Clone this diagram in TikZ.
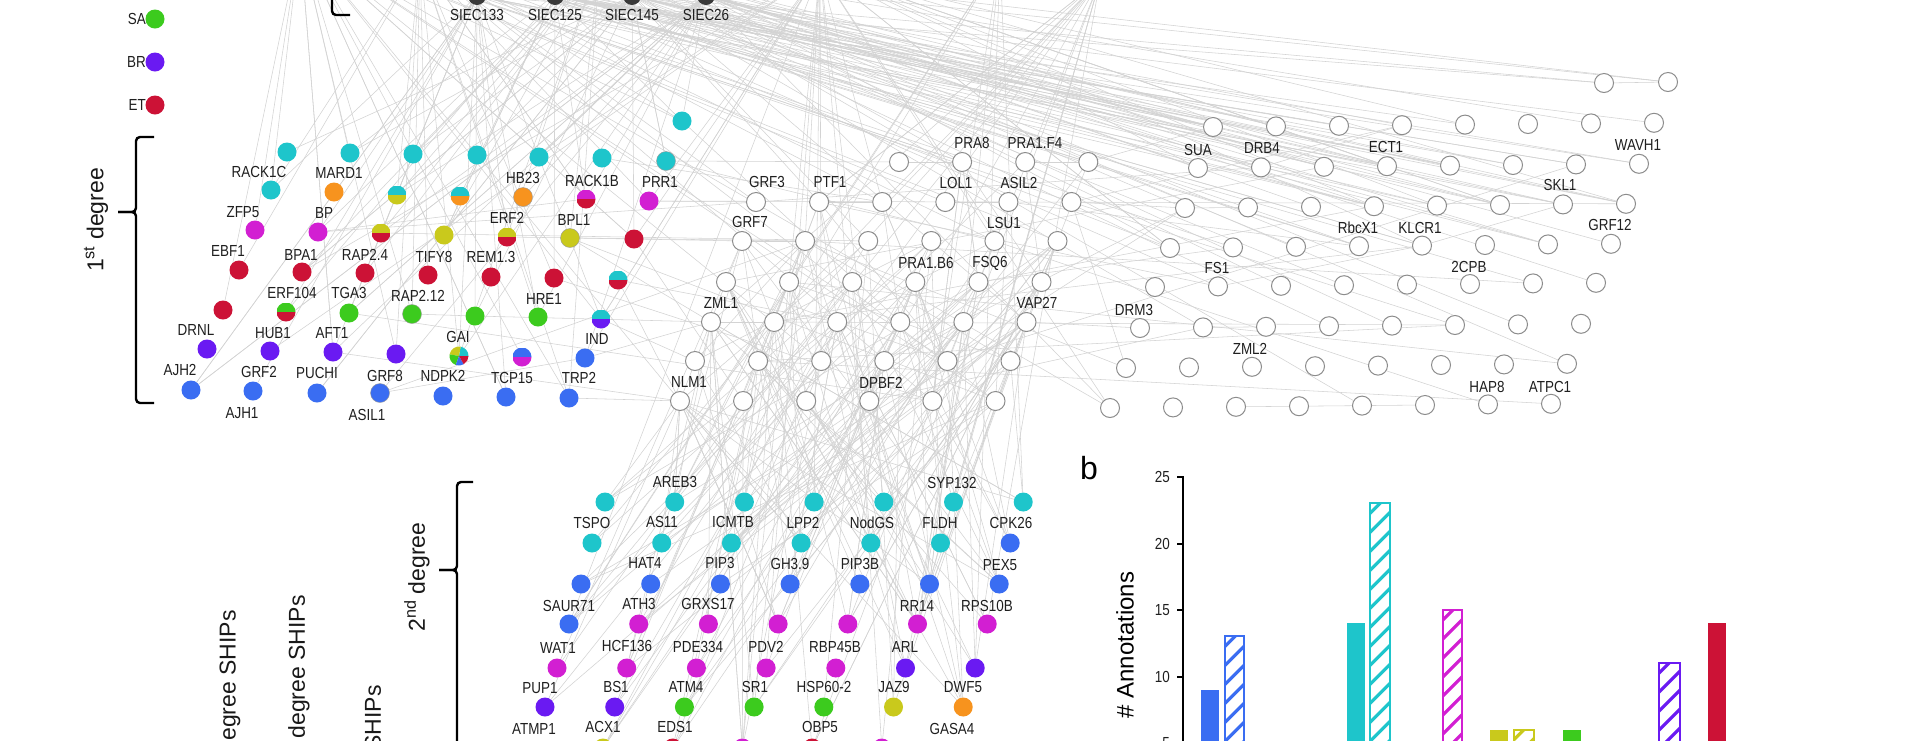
\documentclass[tikz,border=0pt]{standalone}
\usepackage{fontspec}
\setmainfont{Liberation Sans}
\newfontfamily\labfont[FakeStretch=0.84]{Liberation Sans}
\pgfdeclarelayer{bg}
\pgfdeclarelayer{edges}
\pgfsetlayers{bg,edges,main}
\definecolor{cy}{HTML}{1EC5CB}
\definecolor{or}{HTML}{F7931E}
\definecolor{yl}{HTML}{C9C91C}
\definecolor{mg}{HTML}{D21FD2}
\definecolor{rd}{HTML}{CC1236}
\definecolor{gr}{HTML}{3CCB1E}
\definecolor{pu}{HTML}{6A1AF2}
\definecolor{bl}{HTML}{3A6DF2}
\definecolor{lnkc}{HTML}{D3D3D3}
\definecolor{siec}{HTML}{3A3A3A}
\tikzset{
  dot/.style={circle, minimum size=19pt, inner sep=0pt, draw=none, fill=#1},
  half/.style 2 args={circle, minimum size=19pt, inner sep=0pt, draw=none,
    path picture={\fill[#1] (path picture bounding box.north west) rectangle (path picture bounding box.east);
                  \fill[#2] (path picture bounding box.west) rectangle (path picture bounding box.south east);}},
  wnode/.style={circle, minimum size=19pt, inner sep=0pt, draw=black!45, line width=1pt, fill=white},
  lab/.style={font=\labfont\fontsize{16}{16}\selectfont, inner sep=0pt, text=black!88},
  lnk/.style={draw=lnkc, line width=0.55pt},
  brk/.style={line width=2.4pt, rounded corners=4pt},
  bigtxt/.style={font=\fontsize{23}{23}\selectfont, inner sep=0pt, text=black!90},
}
\newcommand{\hatchbar}[4]{%
  \begin{scope}
    \clip (#1,#3) rectangle (#2,760);
    \foreach \k in {-1,...,16} \draw[#4, line width=3.2pt] (#1-4,#3+14+\k*19) -- ++(32,-32);
  \end{scope}
  \draw[#4, line width=2pt] (#1,#3) rectangle (#2,760);}
\begin{document}
\begin{tikzpicture}[x=1pt,y=-1pt]
\useasboundingbox (0,0) rectangle (1920,740);
\begin{pgfonlayer}{bg}
\fill[white] (0,0) rectangle (1920,740);
\end{pgfonlayer}

% ---------- legend ----------
\node[dot=gr] (legSA) at (155,19) {};
\node[dot=pu] (legBR) at (155,62) {};
\node[dot=rd] (legET) at (155,105) {};
\node[lab, anchor=east] (tSA) at (146,19) {SA};
\node[lab, anchor=east] (tBR) at (146,62) {BR};
\node[lab, anchor=east] (tET) at (146,105) {ET};

% ---------- braces and degree labels ----------
\draw[brk] (332,-20) -- (332,15) -- (350,15);
\draw[brk] (154,137) -- (136,137) -- (136,212) -- (118,212);
\draw[brk] (118,212) -- (136,212) -- (136,403) -- (154,403);
\node[bigtxt, rotate=90] (deg1) at (96,220) {1\textsuperscript{st} degree};
\draw[brk] (473,482) -- (457,482) -- (457,570) -- (439,570);
\draw[brk] (439,570) -- (457,570) -- (457,770);
\node[bigtxt, rotate=90] (deg2) at (417,577) {2\textsuperscript{nd} degree};
\node[bigtxt, rotate=90, anchor=east] (ships1) at (230,610) {egree SHIPs};
\node[bigtxt, rotate=90, anchor=east] (ships2) at (299,595) {degree SHIPs};
\node[bigtxt, rotate=90, anchor=east] (ships3) at (373,685) {SHIPs};

% ---------- SIEC nodes (top) and off-canvas hubs ----------
\foreach \x [count=\i] in {477,555,632,706} \node[circle, fill=siec, minimum size=18pt, inner sep=0pt] (t\i) at (\x,-4) {};
\coordinate (t5) at (300,-60);
\coordinate (t6) at (420,-40);
\coordinate (t7) at (600,-40);
\coordinate (t8) at (820,-30);
\coordinate (t9) at (1000,-40);
\coordinate (t10) at (1100,-20);
\foreach \x/\t [count=\i] in {477/SIEC133,555/SIEC125,632/SIEC145,706/SIEC26} \node[lab] (ls\i) at (\x,15) {\t};

% ---------- first degree nodes ----------
\node[dot=cy] (f1) at (287,152) {};
\node[dot=cy] (f2) at (350,153) {};
\node[dot=cy] (f3) at (413,154) {};
\node[dot=cy] (f4) at (477,155) {};
\node[dot=cy] (f5) at (539,157) {};
\node[dot=cy] (f6) at (602,158) {};
\node[dot=cy, draw=black!40] (f7) at (666,161) {};
\node[dot=cy] (f8) at (682,121) {};
\node[dot=cy] (f9) at (271,190) {};
\node[dot=or] (f10) at (334,192) {};
\node[half={cy}{yl}] (f11) at (397,195) {};
\node[half={cy}{or}] (f12) at (460,196) {};
\node[dot=or, draw=black!40] (f13) at (523,197) {};
\node[half={mg}{rd}] (f14) at (586,199) {};
\node[dot=mg] (f15) at (649,201) {};
\node[dot=mg] (f16) at (255,230) {};
\node[dot=mg] (f17) at (318,232) {};
\node[half={yl}{rd}] (f18) at (381,233) {};
\node[dot=yl] (f19) at (444,235) {};
\node[half={yl}{rd}] (f20) at (507,237) {};
\node[dot=yl, draw=black!40] (f21) at (570,238) {};
\node[dot=rd] (f22) at (634,239) {};
\node[dot=rd] (f23) at (239,270) {};
\node[dot=rd] (f24) at (302,272) {};
\node[dot=rd] (f25) at (365,273) {};
\node[dot=rd] (f26) at (428,275) {};
\node[dot=rd] (f27) at (491,277) {};
\node[dot=rd] (f28) at (554,278) {};
\node[half={cy}{rd}] (f29) at (618,280) {};
\node[dot=rd] (f30) at (223,310) {};
\node[half={gr}{rd}] (f31) at (286,312) {};
\node[dot=gr] (f32) at (349,313) {};
\node[dot=gr, draw=black!40] (f33) at (412,314) {};
\node[dot=gr] (f34) at (475,316) {};
\node[dot=gr] (f35) at (538,317) {};
\node[half={cy}{pu}] (f36) at (601,319) {};
\node[dot=pu] (f37) at (207,349) {};
\node[dot=pu] (f38) at (270,351) {};
\node[dot=pu] (f39) at (333,352) {};
\node[dot=pu] (f40) at (396,354) {};
\node[dot=white] (f41) at (459,356) {};
\foreach \sa/\sb/\c in {0/80/cy, 80/170/yl, 170/250/gr, 250/300/bl, 300/360/rd}
  \fill[\c] (f41.center) -- ++(\sa:9.5pt) arc[start angle=\sa, end angle=\sb, radius=9.5pt] -- cycle;
\node[half={bl}{mg}] (f42) at (522,357) {};
\node[dot=bl] (f43) at (585,358) {};
\node[dot=bl] (f44) at (191,390) {};
\node[dot=bl] (f45) at (253,391) {};
\node[dot=bl] (f46) at (317,393) {};
\node[dot=bl, draw=black!40] (f47) at (380,393) {};
\node[dot=bl] (f48) at (443,396) {};
\node[dot=bl] (f49) at (506,397) {};
\node[dot=bl] (f50) at (569,398) {};

\foreach \x/\y/\t [count=\i] in {259/172/RACK1C, 339/173/MARD1, 523/178/HB23, 592/181/RACK1B, 660/182/PRR1,
  243/212/ZFP5, 324/213/BP, 507/218/ERF2, 574/220/BPL1, 228/251/EBF1, 301/255/BPA1, 365/255/RAP2.4,
  434/257/TIFY8, 491/257/REM1.3, 292/293/ERF104, 349/293/TGA3, 418/296/RAP2.12, 544/299/HRE1,
  196/330/DRNL, 273/333/HUB1, 332/333/AFT1, 458/337/GAI, 597/339/IND, 180/370/AJH2, 259/372/GRF2,
  317/373/PUCHI, 385/376/GRF8, 443/376/NDPK2, 512/378/TCP15, 579/378/TRP2, 242/413/AJH1, 367/415/ASIL1}
  \node[lab] (la\i) at (\x,\y) {\t};

% ---------- middle block (white) ----------
\foreach \xa/\ya/\na/\k in {899/162/1/4, 756/202/5/6, 742/241/11/6, 726/282/17/6, 711/322/23/6, 695/361/29/6, 680/401/35/6} {
  \foreach \j in {1,...,\k} {
    \pgfmathsetmacro\xx{\xa+63.1*(\j-1)}
    \pgfmathtruncatemacro\nn{\na+\j-1}
    \node[wnode] (m\nn) at (\xx,\ya) {};
  }
}
% ---------- right block (white) ----------
\node[wnode] (r1) at (1604,83) {};
\node[wnode] (r2) at (1668,82) {};
\foreach \xa/\ya/\na in {1213/127/3, 1198/168/11, 1185/208/19, 1170/248/27, 1155/287/35, 1140/328/43, 1126/368/51, 1110/408/59} {
  \foreach \j in {0,...,7} {
    \pgfmathsetmacro\xx{\xa+63*\j}
    \pgfmathsetmacro\yy{\ya-0.6*\j}
    \pgfmathtruncatemacro\nn{\na+\j}
    \node[wnode] (r\nn) at (\xx,\yy) {};
  }
}
\foreach \x/\y/\t [count=\i] in {972/143/PRA8, 1035/143/PRA1.F4, 767/182/GRF3, 830/182/PTF1, 956/183/LOL1,
  1019/183/ASIL2, 750/222/GRF7, 1004/223/LSU1, 926/263/PRA1.B6, 990/263/FSQ6, 721/303/ZML1, 1037/303/VAP27,
  689/382/NLM1, 881/383/DPBF2, 1134/310/DRM3, 1198/150/SUA, 1217/268/FS1, 1250/349/ZML2, 1262/148/DRB4,
  1386/147/ECT1, 1638/145/WAVH1, 1560/185/SKL1, 1358/228/RbcX1, 1420/228/KLCR1, 1610/225/GRF12,
  1469/267/2CPB, 1487/387/HAP8, 1550/387/ATPC1}
  \node[lab] (lm\i) at (\x,\y) {\t};

% ---------- second degree nodes ----------
\foreach \xa/\ya/\na/\cols in {605/502/1/{cy,cy,cy,cy,cy,cy,cy}, 592/543/8/{cy,cy,cy,cy,cy,cy,bl},
  581/584/15/{bl,bl,bl,bl,bl,bl,bl}, 569/624/22/{bl,mg,mg,mg,mg,mg,mg}, 557/668/29/{mg,mg,mg,mg,mg,pu,pu},
  545/707/36/{pu,pu,gr,gr,gr,yl,or}, 603/748/43/{yl,rd,mg,rd,mg}} {
  \foreach \c [count=\j from 0] in \cols {
    \pgfmathsetmacro\xx{\xa+69.7*\j}
    \pgfmathtruncatemacro\nn{\na+\j}
    \node[dot=\c] (d\nn) at (\xx,\ya) {};
  }
}
\foreach \x/\y/\t [count=\i] in {675/482/AREB3, 952/483/SYP132, 592/523/TSPO, 662/522/AS11, 733/522/ICMTB,
  803/523/LPP2, 872/523/NodGS, 940/523/FLDH, 1011/523/CPK26, 645/563/HAT4, 720/563/PIP3, 790/564/GH3.9,
  860/564/PIP3B, 1000/565/PEX5, 569/606/SAUR71, 639/604/ATH3, 708/604/GRXS17, 917/606/RR14, 987/606/RPS10B,
  558/648/WAT1, 627/646/HCF136, 698/647/PDE334, 766/647/PDV2, 835/647/RBP45B, 905/647/ARL, 540/688/PUP1,
  616/687/BS1, 686/687/ATM4, 755/687/SR1, 824/687/HSP60-2, 894/687/JAZ9, 963/687/DWF5, 534/729/ATMP1,
  603/727/ACX1, 675/727/EDS1, 820/727/OBP5, 952/729/GASA4}
  \node[lab] (ld\i) at (\x,\y) {\t};

% ---------- connectors ----------
\begin{pgfonlayer}{edges}
\foreach \p/\q in {f7/m1, m1/m2, m3/m4, f17/m5, f15/m5, m6/m7, m8/m9, m10/r19, r19/r20, f21/f22, f22/m11,
  m11/m12, f21/m23, f33/f34, f34/m23, f47/f43, f43/m23, f36/m29, m23/m24, m28/r43, r44/r45, r61/r62,
  r62/r63, r63/r64, r36/r31, r31/r25, r12/r6, r1/r2, m4/r3, f17/f14}
  \draw[lnk] (\p) -- (\q);
\pgfmathsetseed{11}
\foreach \i in {1,...,100}{\pgfmathrandominteger{\ra}{1}{8}\pgfmathrandominteger{\rb}{1}{50}\draw[lnk] (t\ra) -- (f\rb);}
\foreach \i in {1,...,75}{\pgfmathrandominteger{\ra}{1}{8}\pgfmathrandominteger{\rb}{1}{34}\draw[lnk] (t\ra) -- (r\rb);}
\foreach \i in {1,...,14}{\pgfmathrandominteger{\ra}{1}{8}\pgfmathrandominteger{\rb}{35}{66}\draw[lnk] (t\ra) -- (r\rb);}
\foreach \i in {1,...,35}{\pgfmathrandominteger{\ra}{5}{10}\pgfmathrandominteger{\rb}{1}{40}\draw[lnk] (t\ra) -- (m\rb);}
\foreach \i in {1,...,16}{\pgfmathrandominteger{\ra}{8}{10}\pgfmathrandominteger{\rb}{1}{47}\draw[lnk] (t\ra) -- (d\rb);}
\foreach \i in {1,...,130}{\pgfmathrandominteger{\ra}{11}{40}\pgfmathrandominteger{\rb}{1}{47}\draw[lnk] (m\ra) -- (d\rb);}
\foreach \i in {1,...,30}{\pgfmathrandominteger{\ra}{21}{28}\pgfmathrandominteger{\rb}{1}{47}\draw[lnk] (m\ra) -- (d\rb);}
\foreach \i in {1,...,12}{\pgfmathrandominteger{\rb}{1}{47}\draw[lnk] (m35) -- (d\rb);}
\foreach \i in {1,...,35}{\pgfmathrandominteger{\ra}{1}{20}\pgfmathrandominteger{\rb}{21}{40}\draw[lnk] (m\ra) -- (m\rb);}
\foreach \i in {1,...,22}{\pgfmathrandominteger{\ra}{1}{40}\pgfmathrandominteger{\rb}{3}{66}\draw[lnk] (m\ra) -- (r\rb);}
\foreach \i in {1,...,15}{\pgfmathrandominteger{\ra}{1}{50}\pgfmathrandominteger{\rb}{1}{40}\draw[lnk] (f\ra) -- (m\rb);}
\end{pgfonlayer}

% ---------- bar chart b ----------
\node[font=\fontsize{32}{32}\selectfont, inner sep=0pt] (blab) at (1089,468) {b};
\node[rotate=90, font=\fontsize{24}{24}\selectfont, inner sep=0pt] (ytitle) at (1125,645) {\# Annotations};
\draw[line width=2.5pt] (1183,476) -- (1183,760);
\foreach \v/\yy [count=\i] in {25/477,20/543.5,15/610,10/676.5,5/743} {
  \draw[line width=2pt] (1177,\yy) -- (1183,\yy);
  \node[lab, anchor=east] (tk\i) at (1170,\yy) {\v};
}
\fill[bl] (1201,689.6) rectangle (1219,760);
\hatchbar{1225}{1244}{636.4}{bl}
\fill[cy] (1347,623.1) rectangle (1365,760);
\hatchbar{1370}{1390}{503.4}{cy}
\hatchbar{1443}{1462}{609.8}{mg}
\fill[yl] (1490,729.5) rectangle (1508,760);
\hatchbar{1514}{1534}{729.5}{yl}
\fill[gr] (1563,729.5) rectangle (1581,760);
\hatchbar{1659}{1680}{663}{pu}
\fill[rd] (1708,623.1) rectangle (1726,760);
\end{tikzpicture}
\end{document}
